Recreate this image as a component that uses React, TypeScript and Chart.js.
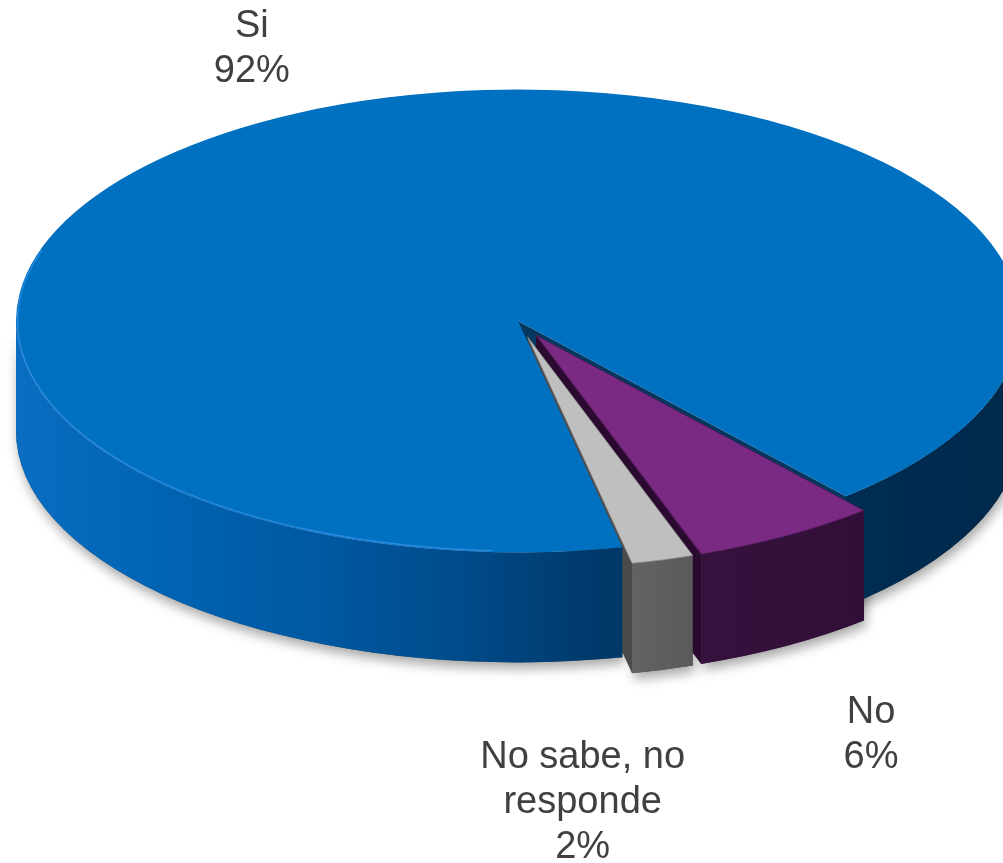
import React, { useEffect, useRef } from "react";
import { Chart, registerables } from "chart.js";

Chart.register(...registerables);

// ---- data ----
const categories = ["Si", "No", "No sabe, no responde"];
const values = [92, 6, 2];
const percentLabels = ["92%", "6%", "2%"];
const labelNameLines = [["Si"], ["No"], ["No sabe, no", "responde"]];

// ---- styles ----
const topColors = ["#0070C0", "#7B2A84", "#BFBFBF"];
const borderColors = ["#0070C0", "#4a1650", "#8c8c8c"];
const cutColors = ["#06375e", "#2a0a2f", "#4b4b4b"];

const W = 1003;
const H = 863;
const CX = 518;
const CY = 321;
const RX = 502;
const K = 0.461;
const DEPTH = 110;
const ROTATION = 168;
const EXPLODE = [0, 36, 36];
const LABEL_NUDGE = [
  [-43, -77],
  [84, 77],
  [-80, 98],
];
const FONT = '38px "Liberation Sans", Arial, sans-serif';
const LINE_H = 45;

type Slice = {
  i: number;
  a: any;
  s: number;
  e: number;
  r: number;
  mid: number;
  ux: number;
  uy: number;
  cx: number;
  cy: number;
};

function visibleRanges(s: number, e: number): [number, number][] {
  const out: [number, number][] = [];
  for (let n = -2; n <= 3; n++) {
    const lo = Math.max(s, 2 * Math.PI * n);
    const hi = Math.min(e, 2 * Math.PI * n + Math.PI);
    if (hi > lo) out.push([lo, hi]);
  }
  return out;
}

function outerWallPath(ctx: CanvasRenderingContext2D, sl: Slice, lo: number, hi: number) {
  ctx.beginPath();
  ctx.ellipse(sl.cx, sl.cy, sl.r, K * sl.r, 0, lo, hi, false);
  ctx.lineTo(sl.cx + sl.r * Math.cos(hi), sl.cy + K * sl.r * Math.sin(hi) + DEPTH);
  ctx.ellipse(sl.cx, sl.cy + DEPTH, sl.r, K * sl.r, 0, hi, lo, true);
  ctx.closePath();
}

function radialWallPath(ctx: CanvasRenderingContext2D, sl: Slice, t: number) {
  const ox = sl.cx + sl.r * Math.cos(t);
  const oy = sl.cy + K * sl.r * Math.sin(t);
  ctx.beginPath();
  ctx.moveTo(sl.cx, sl.cy);
  ctx.lineTo(ox, oy);
  ctx.lineTo(ox, oy + DEPTH);
  ctx.lineTo(sl.cx, sl.cy + DEPTH);
  ctx.closePath();
}

function wallFill(ctx: CanvasRenderingContext2D, i: number) {
  const g = ctx.createLinearGradient(CX - RX, 0, CX + RX, 0);
  if (i === 0) {
    g.addColorStop(0, "#0a6dc2");
    g.addColorStop(0.15, "#0063b2");
    g.addColorStop(0.3, "#0059a2");
    g.addColorStop(0.45, "#004a89");
    g.addColorStop(0.57, "#003a6c");
    g.addColorStop(0.75, "#002f57");
    g.addColorStop(1, "#00284a");
  } else if (i === 1) {
    g.addColorStop(0, "#3d1444");
    g.addColorStop(0.6, "#381240");
    g.addColorStop(1, "#2e0d33");
  } else {
    g.addColorStop(0, "#6a6a6a");
    g.addColorStop(0.6, "#646464");
    g.addColorStop(0.68, "#5a5a5a");
    g.addColorStop(1, "#555555");
  }
  return g;
}

function getSlices(chart: any): { slices: Slice[]; ax: number; ay: number } | null {
  const meta = chart.getDatasetMeta(0);
  const arcs = meta.data as any[];
  if (!arcs || !arcs.length) return null;
  const ax = arcs[0].x;
  const ay = arcs[0].y;
  const slices = arcs.map((a, i) => {
    const s = a.startAngle;
    const e = a.endAngle;
    const mid = (s + e) / 2;
    const ex = EXPLODE[i] || 0;
    const ux = Math.cos(mid) * ex;
    const uy = Math.sin(mid) * ex;
    return { i, a, s, e, r: a.outerRadius, mid, ux, uy, cx: CX + ux, cy: CY + K * uy };
  });
  return { slices, ax, ay };
}

const pie3d = {
  id: "pie3d",
  beforeDatasetsDraw(chart: any) {
    const ctx: CanvasRenderingContext2D = chart.ctx;
    const g = getSlices(chart);
    if (!g) return;
    const { slices, ax, ay } = g;
    const order = [...slices].sort((p, q) => Math.sin(p.mid) - Math.sin(q.mid));

    // soft drop shadow
    ctx.save();
    ctx.shadowColor = "rgba(0,0,0,0.35)";
    ctx.shadowBlur = 12;
    ctx.shadowOffsetX = 2;
    ctx.shadowOffsetY = 6;
    ctx.fillStyle = "#555";
    for (const sl of order) {
      for (const [lo, hi] of visibleRanges(sl.s, sl.e)) {
        outerWallPath(ctx, sl, lo, hi);
        ctx.fill();
      }
    }
    ctx.restore();

    // radial cut walls first (they sit behind the outer rims)
    for (const sl of order) {
      const walls: [number, number][] = [
        [sl.s, sl.s - Math.PI / 2],
        [sl.e, sl.e + Math.PI / 2],
      ];
      for (const [t, normal] of walls) {
        if (Math.sin(normal) <= 0.01) continue;
        radialWallPath(ctx, sl, t);
        ctx.fillStyle = cutColors[sl.i];
        ctx.fill();
      }
    }
    // outer rims
    for (const sl of order) {
      for (const [lo, hi] of visibleRanges(sl.s, sl.e)) {
        outerWallPath(ctx, sl, lo, hi);
        ctx.fillStyle = wallFill(ctx, sl.i);
        ctx.fill();
      }
    }

    // top faces drawn by Chart.js arc elements, squashed into perspective
    for (const sl of order) {
      ctx.save();
      ctx.translate(CX + sl.ux, CY + K * sl.uy);
      ctx.scale(1, K);
      ctx.translate(-ax, -ay);
      sl.a.draw(ctx);
      ctx.restore();
    }

    // bevel highlight on the front rim of the big slice
    const b = slices[0];
    ctx.save();
    ctx.strokeStyle = "rgba(60,150,240,0.7)";
    ctx.lineWidth = 1.4;
    ctx.beginPath();
    ctx.ellipse(b.cx, b.cy, b.r - 1.5, K * b.r - 1.5, 0, Math.max(b.s, Math.PI * 0.5) + 0.05, Math.PI * 1.1);
    ctx.stroke();
    ctx.restore();

    return false;
  },
  afterDraw(chart: any) {
    const ctx: CanvasRenderingContext2D = chart.ctx;
    const g = getSlices(chart);
    if (!g) return;
    ctx.save();
    ctx.font = FONT;
    ctx.fillStyle = "#404040";
    ctx.textAlign = "center";
    ctx.textBaseline = "alphabetic";
    for (const sl of g.slices) {
      let x = sl.cx + sl.r * Math.cos(sl.mid);
      let y = sl.cy + K * sl.r * Math.sin(sl.mid);
      if (Math.sin(sl.mid) > 0) y += DEPTH;
      x += LABEL_NUDGE[sl.i][0];
      y += LABEL_NUDGE[sl.i][1];
      const lines = [...labelNameLines[sl.i], percentLabels[sl.i]];
      lines.forEach((ln, j) => ctx.fillText(ln, x, y + j * LINE_H));
    }
    ctx.restore();
  },
};

export default function App() {
  const ref = useRef<HTMLCanvasElement | null>(null);
  useEffect(() => {
    document.body.style.margin = "0";
    const canvas = ref.current;
    if (!canvas) return;
    const chart = new Chart(canvas, {
      type: "pie",
      data: {
        labels: categories,
        datasets: [
          {
            data: values,
            backgroundColor: topColors,
            borderColor: borderColors,
            borderWidth: [0, 1.2, 1],
            clip: false,
          } as any,
        ],
      },
      options: {
        responsive: false,
        animation: false,
        rotation: ROTATION,
        radius: RX,
        events: [],
        layout: { padding: 0 },
        plugins: {
          legend: { display: false },
          tooltip: { enabled: false },
        },
      } as any,
      plugins: [pie3d as any],
    });
    return () => chart.destroy();
  }, []);
  return (
    <div style={{ position: "absolute", left: 0, top: 0, width: W, height: H, background: "#fff" }}>
      <canvas ref={ref} width={W} height={H} style={{ display: "block", width: W, height: H }} />
    </div>
  );
}
